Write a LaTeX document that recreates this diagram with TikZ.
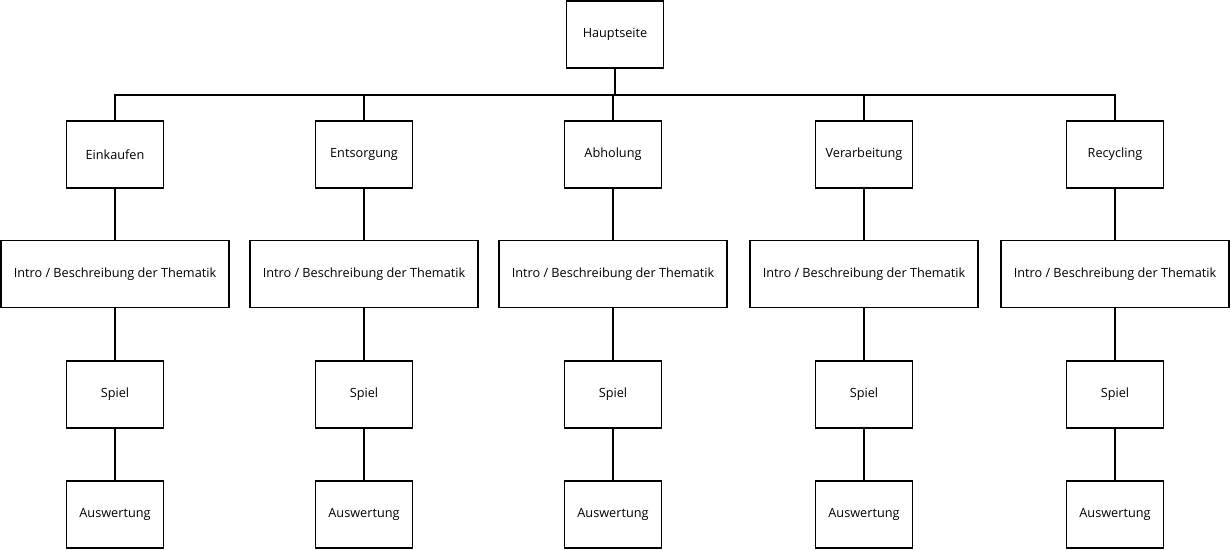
\documentclass[tikz,border=0pt]{standalone}
\usepackage{fontspec}
\setmainfont{Open Sans}
\begin{document}
\begin{tikzpicture}[x=1pt,y=-1pt,
  box/.style={draw=black,line width=1.8pt,fill=white,inner sep=0pt,
    minimum width=97pt,minimum height=67pt,font=\fontsize{12.7}{14}\selectfont},
  widebox/.style={box,minimum width=228pt},
  link/.style={draw=black,line width=1.8pt}]
\useasboundingbox (0,0) rectangle (1231,550);

\node[box] (top) at (615,34.5) {Hauptseite};
\coordinate (bus) at (615,95);

% one column per topic: topic, intro, game, evaluation
\foreach \name/\x/\label in {a/115/Einkaufen,b/364/Entsorgung,c/613/Abholung,d/864/Verarbeitung,e/1115/Recycling}{
  \node[box] (\name1) at (\x,154.5) {\label};
  \node[widebox] (\name2) at (\x,274) {Intro / Beschreibung der Thematik};
  \node[box] (\name3) at (\x,394.5) {Spiel};
  \node[box] (\name4) at (\x,514.5) {Auswertung};
  \draw[link] (\name1.north) -- (\name1.north |- bus);
  \draw[link] (\name1) -- (\name2);
  \draw[link] (\name2) -- (\name3);
  \draw[link] (\name3) -- (\name4);
}
\draw[link] (top.south) -- (bus);
\draw[link,line cap=rect] (a1.north |- bus) -- (e1.north |- bus);
\end{tikzpicture}
\end{document}
